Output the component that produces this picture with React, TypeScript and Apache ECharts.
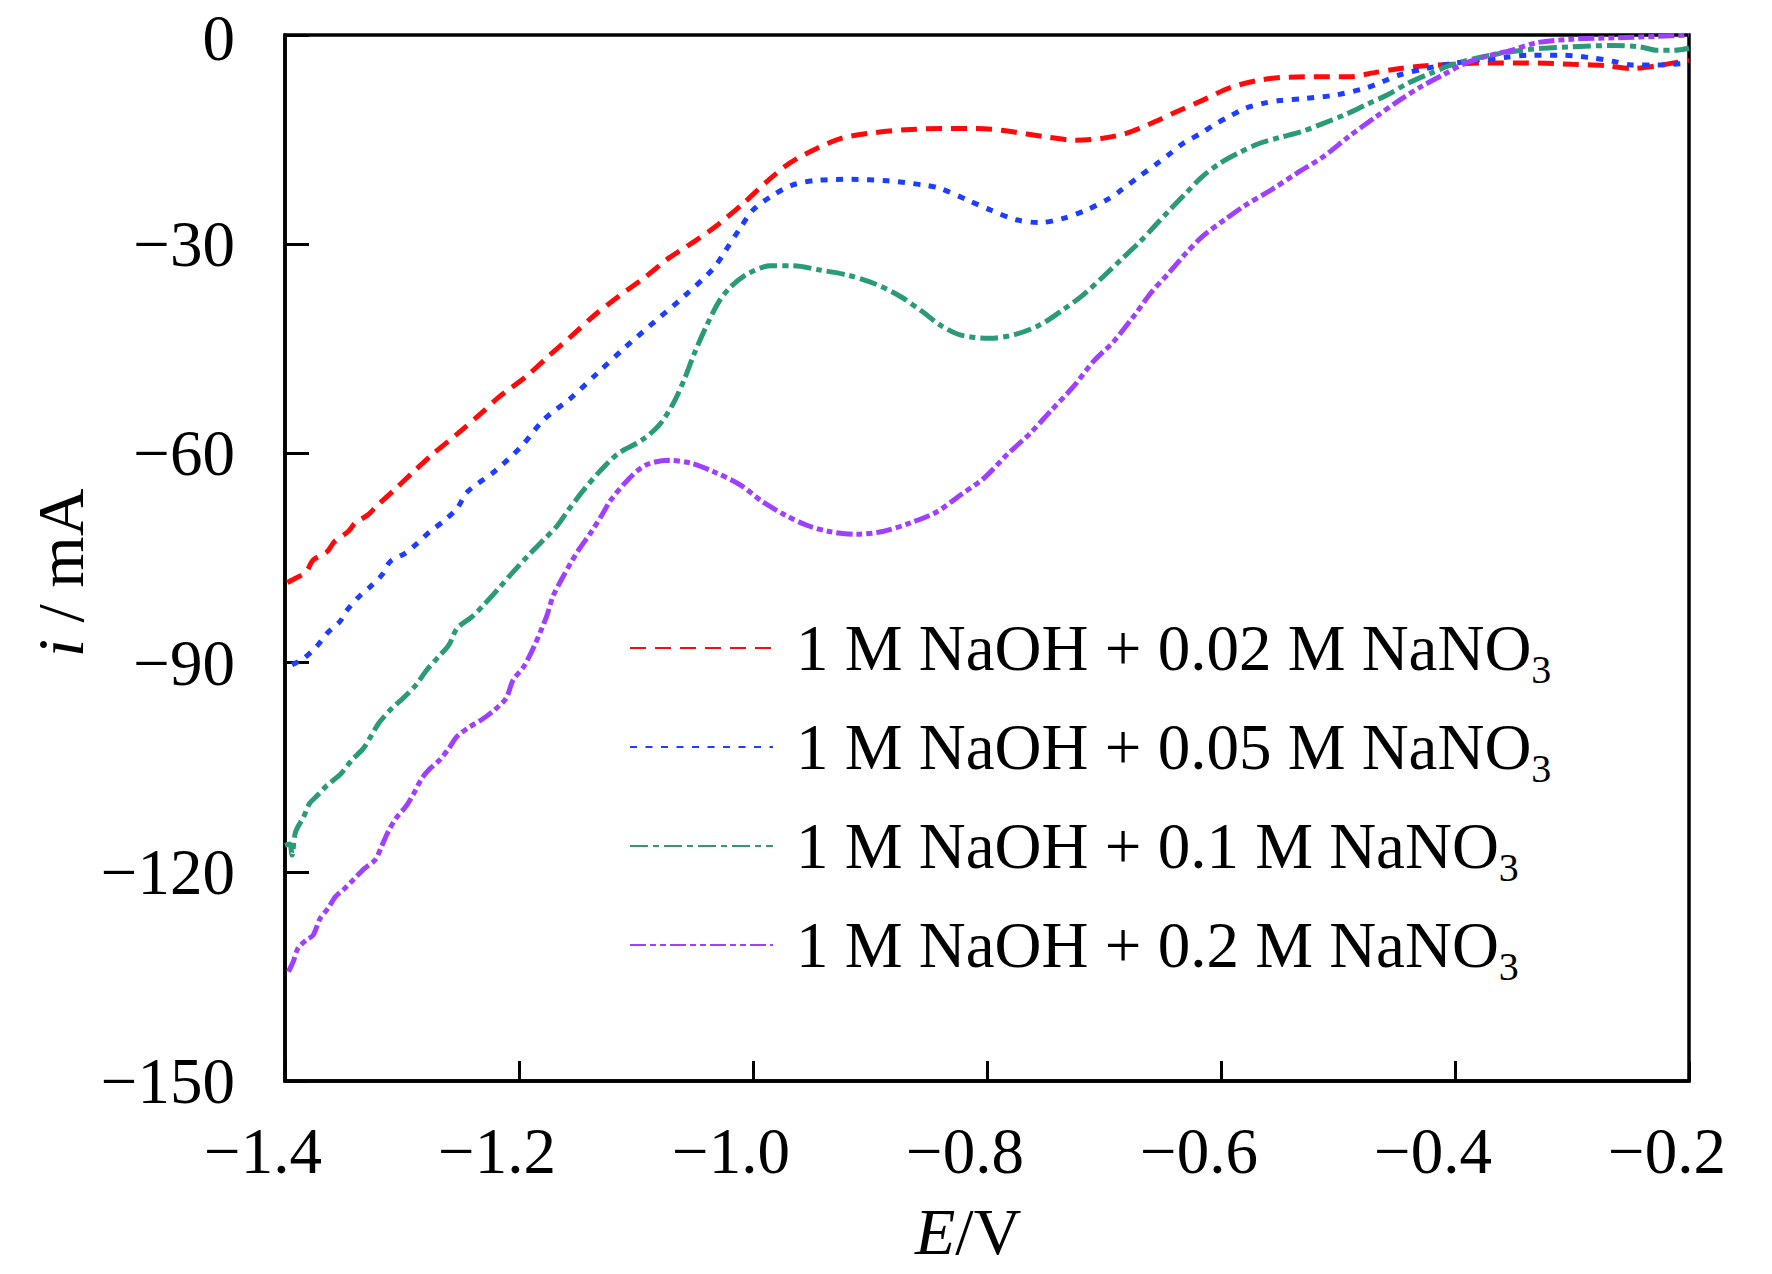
import React, { useEffect, useRef } from "react";
import * as echarts from "echarts";

const FONT = "Liberation Serif";

const seriesNames = [
  "1 M NaOH + 0.02 M NaNO3",
  "1 M NaOH + 0.05 M NaNO3",
  "1 M NaOH + 0.1 M NaNO3",
  "1 M NaOH + 0.2 M NaNO3",
];

const xTicks = [-1.4, -1.2, -1.0, -0.8, -0.6, -0.4, -0.2];
const yTicks = [-150, -120, -90, -60, -30, 0];

const red002: [number, number][] = [
  [-1.398, -78.5], [-1.391, -77.9], [-1.382, -77.0], [-1.376, -75.3], [-1.364, -74.1],
  [-1.358, -72.7], [-1.346, -71.2], [-1.34, -70.0], [-1.329, -68.8], [-1.322, -67.6],
  [-1.307, -65.3], [-1.29, -62.6], [-1.273, -60.0], [-1.252, -57.1], [-1.232, -54.2],
  [-1.217, -51.9], [-1.194, -49.0], [-1.175, -46.1], [-1.156, -43.3], [-1.137, -40.4],
  [-1.115, -37.5], [-1.092, -34.7], [-1.072, -32.0], [-1.05, -29.6], [-1.03, -27.2],
  [-1.008, -24.1], [-0.988, -21.0], [-0.969, -18.4], [-0.946, -16.3], [-0.924, -14.8],
  [-0.901, -14.1], [-0.87, -13.6], [-0.837, -13.4], [-0.809, -13.4], [-0.786, -13.7],
  [-0.766, -14.2], [-0.746, -14.7], [-0.724, -15.1], [-0.701, -14.8], [-0.681, -14.1],
  [-0.66, -12.7], [-0.638, -11.0], [-0.615, -9.3], [-0.593, -7.6], [-0.571, -6.6],
  [-0.549, -6.1], [-0.52, -6.0], [-0.491, -6.0], [-0.469, -5.4], [-0.447, -4.8],
  [-0.425, -4.4], [-0.403, -4.2], [-0.374, -4.0], [-0.337, -4.0], [-0.3, -4.2],
  [-0.271, -4.4], [-0.249, -4.8], [-0.227, -4.4], [-0.2, -3.6],
];

const blue005: [number, number][] = [
  [-1.394, -90.3], [-1.384, -89.4], [-1.373, -87.7], [-1.364, -85.8], [-1.353, -84.1],
  [-1.347, -82.5], [-1.337, -80.6], [-1.327, -79.1], [-1.317, -77.4], [-1.31, -75.5],
  [-1.297, -74.3], [-1.287, -72.9], [-1.276, -71.2], [-1.265, -69.8], [-1.253, -67.9],
  [-1.244, -65.5], [-1.221, -62.6], [-1.198, -59.0], [-1.179, -55.2], [-1.156, -52.1],
  [-1.133, -48.5], [-1.11, -44.9], [-1.084, -41.1], [-1.059, -37.5], [-1.034, -33.5],
  [-1.023, -30.8], [-1.011, -27.7], [-1.0, -25.1], [-0.985, -23.2], [-0.966, -21.5],
  [-0.943, -20.8], [-0.916, -20.7], [-0.885, -20.9], [-0.855, -21.5], [-0.84, -22.0],
  [-0.815, -23.8], [-0.797, -25.1], [-0.775, -26.5], [-0.755, -26.9], [-0.735, -26.3],
  [-0.715, -25.1], [-0.695, -23.4], [-0.685, -22.2], [-0.67, -20.3], [-0.656, -18.6],
  [-0.645, -17.2], [-0.632, -15.5], [-0.617, -14.1], [-0.606, -12.9], [-0.593, -11.7],
  [-0.579, -10.5], [-0.564, -9.8], [-0.55, -9.4], [-0.528, -9.1], [-0.502, -8.6],
  [-0.476, -7.6], [-0.462, -6.7], [-0.447, -5.7], [-0.425, -4.8], [-0.403, -4.1],
  [-0.381, -3.6], [-0.356, -3.2], [-0.337, -2.9], [-0.308, -2.9], [-0.282, -3.3],
  [-0.264, -3.8], [-0.249, -4.3], [-0.227, -4.3], [-0.2, -4.0],
];

const green01: [number, number][] = [
  [-1.4, -116.2], [-1.396, -116.0], [-1.394, -117.6], [-1.391, -114.3], [-1.384, -112.1],
  [-1.379, -110.2], [-1.372, -109.0], [-1.364, -107.6], [-1.352, -105.9], [-1.343, -104.0],
  [-1.333, -102.3], [-1.326, -100.4], [-1.319, -98.5], [-1.309, -96.6], [-1.299, -95.1],
  [-1.288, -93.2], [-1.279, -91.1], [-1.269, -89.2], [-1.26, -87.5], [-1.253, -85.1],
  [-1.24, -83.4], [-1.23, -81.7], [-1.216, -79.1], [-1.205, -77.0], [-1.193, -74.8],
  [-1.179, -72.4], [-1.168, -70.5], [-1.159, -68.4], [-1.145, -65.3], [-1.13, -62.4],
  [-1.115, -60.0], [-1.095, -58.1], [-1.08, -55.9], [-1.068, -52.8], [-1.059, -49.5],
  [-1.05, -45.6], [-1.04, -41.8], [-1.029, -38.2], [-1.019, -36.1], [-1.004, -34.2],
  [-0.985, -33.1], [-0.965, -33.1], [-0.943, -33.7], [-0.92, -34.4], [-0.897, -35.6],
  [-0.874, -37.5], [-0.855, -39.7], [-0.84, -41.6], [-0.823, -43.0], [-0.797, -43.5],
  [-0.775, -42.9], [-0.755, -41.6], [-0.735, -39.4], [-0.718, -37.3], [-0.701, -34.7],
  [-0.684, -32.0], [-0.669, -29.6], [-0.66, -28.0], [-0.645, -25.3], [-0.63, -22.7],
  [-0.616, -20.3], [-0.601, -18.4], [-0.586, -17.0], [-0.568, -15.6], [-0.55, -14.7],
  [-0.532, -13.9], [-0.513, -12.7], [-0.495, -11.5], [-0.476, -10.0], [-0.458, -8.6],
  [-0.44, -6.9], [-0.421, -5.5], [-0.403, -4.3], [-0.381, -3.3], [-0.356, -2.5],
  [-0.326, -1.9], [-0.3, -1.7], [-0.264, -1.5], [-0.242, -1.7], [-0.227, -2.2],
  [-0.213, -2.2], [-0.2, -1.9],
];

const purple02: [number, number][] = [
  [-1.397, -134.3], [-1.393, -132.9], [-1.389, -131.0], [-1.382, -129.8], [-1.376, -129.1],
  [-1.37, -126.7], [-1.363, -125.2], [-1.357, -123.6], [-1.349, -122.4], [-1.342, -121.2],
  [-1.332, -119.5], [-1.323, -118.3], [-1.317, -116.2], [-1.312, -114.3], [-1.305, -112.3],
  [-1.297, -110.7], [-1.29, -108.8], [-1.283, -106.6], [-1.276, -105.2], [-1.268, -104.0],
  [-1.26, -102.3], [-1.253, -100.6], [-1.242, -99.2], [-1.232, -98.2], [-1.221, -96.8],
  [-1.211, -95.1], [-1.205, -92.5], [-1.196, -90.6], [-1.188, -88.0], [-1.181, -85.3],
  [-1.176, -83.2], [-1.171, -80.5], [-1.164, -78.2], [-1.155, -75.5], [-1.148, -73.6],
  [-1.138, -71.2], [-1.129, -68.8], [-1.122, -66.8], [-1.107, -63.8], [-1.092, -61.7],
  [-1.072, -61.0], [-1.053, -61.4], [-1.034, -62.6], [-1.011, -64.5], [-0.992, -66.9],
  [-0.973, -68.8], [-0.954, -70.3], [-0.935, -71.2], [-0.912, -71.6], [-0.889, -71.2],
  [-0.866, -70.0], [-0.843, -68.4], [-0.823, -66.0], [-0.803, -63.6], [-0.783, -60.2],
  [-0.763, -57.1], [-0.746, -54.0], [-0.726, -50.4], [-0.709, -46.8], [-0.692, -44.0],
  [-0.674, -40.2], [-0.66, -37.0], [-0.645, -34.2], [-0.63, -31.3], [-0.616, -28.9],
  [-0.597, -26.5], [-0.579, -24.4], [-0.557, -22.2], [-0.535, -19.8], [-0.513, -17.5],
  [-0.491, -14.6], [-0.469, -11.9], [-0.447, -9.3], [-0.429, -7.4], [-0.41, -5.7],
  [-0.392, -4.1], [-0.374, -3.1], [-0.352, -2.2], [-0.33, -1.1], [-0.3, -0.6],
  [-0.264, -0.4], [-0.227, -0.2], [-0.2, 0.0],
];

const seriesData = [red002, blue005, green01, purple02];
const colors = ["#ff0a0a", "#1e3dff", "#2b9a78", "#a040ff"];
const dashes = [
  [16, 9],
  [7, 8.5],
  [18, 5, 6, 5],
  [16, 4, 6, 4, 6, 4],
];

const minus = (s: string) => s.replace("-", "\u2212");

export default function App() {
  const ref = useRef<HTMLDivElement>(null);

  useEffect(() => {
    if (!ref.current) return;
    const chart = echarts.init(ref.current, null, { renderer: "svg" });

    const option: any = {
      animation: false,
      backgroundColor: "#ffffff",
      grid: {
        left: 285,
        top: 35,
        width: 1404,
        height: 1046,
        containLabel: false,
        outerBoundsMode: "none",
        show: true,
        borderColor: "#000",
        borderWidth: 3.5,
        backgroundColor: "transparent",
      },
      xAxis: {
        type: "value",
        min: xTicks[0],
        max: xTicks[xTicks.length - 1],
        interval: 0.2,
        axisLine: { show: true, onZero: false, lineStyle: { color: "#000", width: 3.5 } },
        axisTick: { show: true, inside: true, length: 20, lineStyle: { color: "#000", width: 3 } },
        splitLine: { show: false },
        axisLabel: {
          showMinLabel: true,
          showMaxLabel: true,
          margin: 37,
          color: "#000",
          fontFamily: FONT,
          fontSize: 65,
          padding: [0, 44, 0, 0],
          formatter: (v: number) => minus(v.toFixed(1)),
        },
      },
      yAxis: {
        type: "value",
        min: yTicks[0],
        max: yTicks[yTicks.length - 1],
        interval: 30,
        axisLine: { show: true, onZero: false, lineStyle: { color: "#000", width: 3.5 } },
        axisTick: { show: true, inside: true, length: 24, lineStyle: { color: "#000", width: 3 } },
        splitLine: { show: false },
        axisLabel: {
          showMinLabel: true,
          showMaxLabel: true,
          margin: 50,
          color: "#000",
          fontFamily: FONT,
          fontSize: 65,
          lineHeight: 50,
          formatter: (v: number) =>
            Math.round(v) === 0 ? "{z|0}" : minus(String(Math.round(v))),
          rich: {
            z: {
              fontFamily: FONT,
              fontSize: 65,
              lineHeight: 50,
              color: "#000",
              padding: [6, 0, 0, 0],
            },
          },
        },
      },
      legend: {
        orient: "vertical",
        left: 629,
        top: 607,
        padding: 0,
        itemWidth: 143,
        itemHeight: 14,
        itemGap: 17,
        itemStyle: { opacity: 0 },
        data: seriesNames,
        formatter: (name: string) => `{a|${name.slice(0, -1)}}{s|${name.slice(-1)}}`,
        textStyle: {
          color: "#000",
          fontFamily: FONT,
          fontSize: 65,
          rich: {
            a: { fontFamily: FONT, fontSize: 65, lineHeight: 66, color: "#000", padding: [0, 0, 0, 18] },
            s: { fontFamily: FONT, fontSize: 40, lineHeight: 40, color: "#000", padding: [42, 0, 0, 0] },
          },
        },
      },
      graphic: [
        {
          type: "text",
          left: 915,
          top: 1198,
          style: {
            text: "{i|E}{n|/V}",
            rich: {
              i: { fontFamily: FONT, fontSize: 66, fontStyle: "italic", fill: "#000" },
              n: { fontFamily: FONT, fontSize: 66, fill: "#000" },
            },
          },
        },
        {
          type: "text",
          x: 60,
          y: 573,
          rotation: Math.PI / 2,
          style: {
            text: "{i|i}{n| / mA}",
            align: "center",
            verticalAlign: "middle",
            rich: {
              i: { fontFamily: FONT, fontSize: 66, fontStyle: "italic", fill: "#000" },
              n: { fontFamily: FONT, fontSize: 66, fill: "#000" },
            },
          },
        },
      ],
      series: seriesNames.map((name, k) => ({
        name,
        type: "line",
        data: seriesData[k],
        symbol: "none",
        smooth: 0.3,
        clip: true,
        color: colors[k],
        lineStyle: { color: colors[k], width: 5, type: dashes[k], cap: "butt" },
      })),
    };

    chart.setOption(option);
    return () => chart.dispose();
  }, []);

  return (
    <div
      ref={ref}
      style={{ position: "absolute", left: 0, top: 0, width: 1772, height: 1274 }}
    />
  );
}
